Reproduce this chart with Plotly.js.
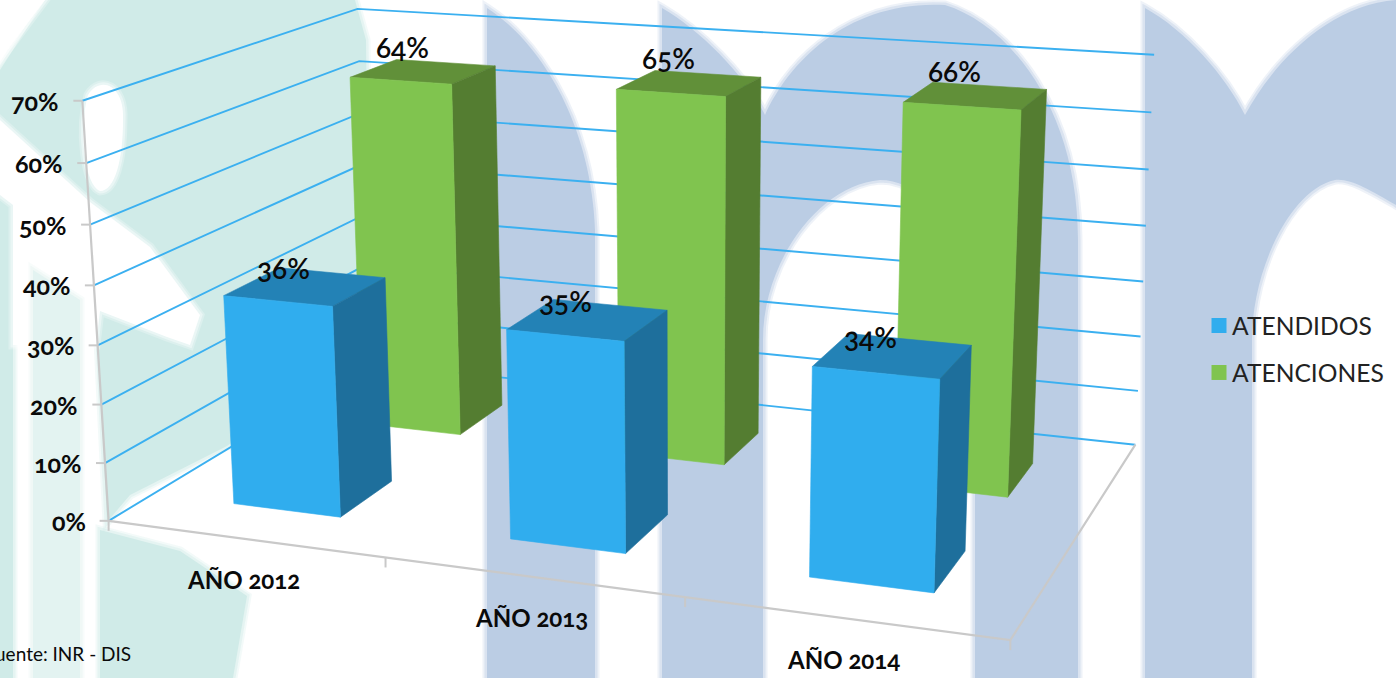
<!DOCTYPE html>
<html><head><meta charset="utf-8">
<script src="https://cdn.plot.ly/plotly-3.0.1.min.js"></script>
<style>
html,body{margin:0;padding:0;background:#fff;overflow:hidden}
#c{width:1396px;height:678px}
text{font-variant-numeric:oldstyle-nums;font-feature-settings:"onum" 1}
</style></head><body><div id="c"></div>
<script>
// ---- chart data ----
const categories = ['AÑO 2012','AÑO 2013','AÑO 2014'];
const atendidos  = [36,35,34];
const atenciones = [64,65,66];
const seriesNames = ['ATENDIDOS','ATENCIONES'];
const axisTicks = [0,10,20,30,40,50,60,70];
const source = 'Fuente: INR - DIS';

// ---- view: world (category, depth, percent) -> screen, fitted to the 3-D box ----
const calib = [
 [0,0,0,107,522],[3,0,0,1010,640],[3,1,0,1135,445],[0,1,0,372,362],
 [0,0,70,85,100],[0,1,70,355,9],[3,1,70,1155,55],
 [0,0,30,97,345],[3,1,30,1143,281],[0,1,30,364,216]
];
function solve(A,b){
  const n=b.length;A=A.map((r,i)=>[...r,b[i]]);
  for(let i=0;i<n;i++){
    let m=i;for(let k=i+1;k<n;k++)if(Math.abs(A[k][i])>Math.abs(A[m][i]))m=k;
    [A[i],A[m]]=[A[m],A[i]];
    for(let k=i+1;k<n;k++){const f=A[k][i]/A[i][i];for(let j=i;j<=n;j++)A[k][j]-=f*A[i][j];}
  }
  const x=Array(n).fill(0);
  for(let i=n-1;i>=0;i--){let s=A[i][n];for(let j=i+1;j<n;j++)s-=A[i][j]*x[j];x[i]=s/A[i][i];}
  return x;
}
const P=(function(){
  const R=[],B=[];
  calib.forEach(([x,y,z,X,Y])=>{
    const zz=z/70,U=X/1000,V=Y/1000;
    R.push([x,y,zz,1,0,0,0,0,-U*x,-U*y,-U*zz]);B.push(U);
    R.push([0,0,0,0,x,y,zz,1,-V*x,-V*y,-V*zz]);B.push(V);
  });
  const n=11,N=Array.from({length:n},()=>Array(n).fill(0)),v=Array(n).fill(0);
  R.forEach((r,k)=>{for(let i=0;i<n;i++){v[i]+=r[i]*B[k];for(let j=0;j<n;j++)N[i][j]+=r[i]*r[j];}});
  return solve(N,v);
})();
function proj(x,y,z){
  const zz=z/70,w=P[8]*x+P[9]*y+P[10]*zz+1;
  return [1000*(P[0]*x+P[1]*y+P[2]*zz+P[3])/w,1000*(P[4]*x+P[5]*y+P[6]*zz+P[7])/w];
}
function lineThrough(pts){return {x:pts.map(p=>p[0]),y:pts.map(p=>p[1])};}

const traces=[];
const GRID='#3BB0F0',AXIS='#C9C9C9';
function stroke(pts,color,width){
  traces.push({type:'scatter',mode:'lines',...lineThrough(pts),line:{color,width,simplify:false},showlegend:false,hoverinfo:'skip'});
}
// walls
axisTicks.forEach(t=>stroke([proj(0,0,t),proj(0,1,t),proj(3,1,t)],GRID,1.9));
// axis lines and ticks
stroke([proj(0,0,0),proj(0,0,axisTicks[axisTicks.length-1])],AXIS,2.2);
stroke([proj(0,0,0),proj(3,0,0),proj(3,1,0)],AXIS,2.2);
axisTicks.forEach(t=>{const p=proj(0,0,t);stroke([[p[0]-9,p[1]],p],AXIS,2);});
categories.forEach((c,i)=>{const p=proj(i,0,0);stroke([p,[p[0],p[1]+10]],AXIS,2);});
{const p=proj(3,0,0);stroke([p,[p[0],p[1]+10]],AXIS,2);}

// bars
function face(pts,color){
  const c=[...pts,pts[0]];
  traces.push({type:'scatter',mode:'lines',...lineThrough(c),fill:'toself',fillcolor:color,
    line:{color,width:0.6,simplify:false},showlegend:false,hoverinfo:'skip'});
}
function bars(vals,x0,x1,y0,y1,cFront,cTop,cSide){
  vals.forEach((v,i)=>{
    const a=i+x0,b=i+x1;
    face([proj(a,y0,v),proj(b,y0,v),proj(b,y1,v),proj(a,y1,v)],cTop);
    face([proj(b,y0,0),proj(b,y1,0),proj(b,y1,v),proj(b,y0,v)],cSide);
    face([proj(a,y0,0),proj(b,y0,0),proj(b,y0,v),proj(a,y0,v)],cFront);
  });
}
const BLUE='#30ADEE',GREEN='#80C44F';
const blueX=[0.303,0.697],greenX=[0.315,0.705];
bars(atenciones,greenX[0],greenX[1],0.635,0.83,GREEN,'#619039','#547D31');
bars(atendidos,blueX[0],blueX[1],0.15,0.35,BLUE,'#2382B6','#1E6F9C');

// legend entries
[[seriesNames[0],BLUE],[seriesNames[1],GREEN]].forEach(([name,color])=>{
  traces.push({type:'scatter',mode:'markers',name,legendgroup:name,x:[null],y:[null],
    marker:{symbol:'square',size:15,color},hoverinfo:'skip'});
});

// text
const FF='Lato, "Open Sans", sans-serif';
const ann=[];
function label(x,y,text,size,weight,anchor){
  ann.push({xref:'x',yref:'y',x,y,text,showarrow:false,xanchor:anchor||'center',yanchor:'middle',
    font:{family:FF,size,weight,color:'#0A0A0A'}});
}
axisTicks.forEach(t=>{const p=proj(0,0,t);label(p[0]-21,p[1],t+'%',25,700,'right');});
categories.forEach((c,i)=>{const p=proj(i+0.5,0,0);label(p[0]-1,p[1]+41,c,24,700);});
function dataLabels(vals,x,y,dx,dy){
  vals.forEach((v,i)=>{
    const p=proj(i+x,y,v);
    label(p[0]+dx,p[1]+dy,v+'%',28,600);
  });
}
dataLabels(atendidos,0.5,0.25,-22,-19);
dataLabels(atenciones,0.5,0.73,-18,-25);
label(133,653,source,19,400,'right');

// backdrop watermark
const TEAL='#D0EBE8',PALE='#E3F3F1',SLATE='#BBCDE4';
const teal=[
 'M 45,0 L 355,0 L 366,40 L 370,370 L 250,430 L 227,446 L 130,495 L 107,522 L 98,340 L 0,200 L 0,70 Z',
 'M 100,530 L 180,551 L 247,596 L 233,678 L 100,678 Z',
 'M 0,200 L 13,210 L 13,678 L 0,678 Z'
];
const pale=[
 'M 33,270 L 80,300 L 80,678 L 33,678 Z'
];
const whiteOver=[
 'M 88,95 C 100,75 125,85 123,120 C 123,160 115,191 100,191 C 85,185 78,130 88,95 Z',
 'M 0,120 L 90,202 L 150,247 L 200,315 L 190,345 L 167,337 L 100,311 L 96,345 L 13,345 L 13,205 L 0,195 Z',
 'M 0,60 L 45,0 L 0,0 Z'
];
const slate=[
 'M 487,8 C 530,35 590,110 595,230 L 595,678 L 487,678 Z',
 'M 662,8 C 700,30 745,75 765,115 C 790,60 850,0 945,5 C 1010,25 1078,110 1078,240 L 1078,678 L 975,678 L 975,340 C 975,260 935,180 880,180 C 820,185 763,260 763,340 L 763,678 L 662,678 Z',
 'M 1145,8 C 1185,30 1225,75 1245,115 C 1275,60 1330,5 1396,0 L 1396,205 C 1370,190 1350,178 1335,180 C 1290,190 1252,270 1252,340 L 1252,678 L 1145,678 Z'
];
const shapes=[];
function soft(d,color,rgb){
  [[9,0.25],[5,0.4]].forEach(([w,o])=>shapes.push({type:'path',xref:'x',yref:'y',layer:'below',path:d,
    fillcolor:'rgba(0,0,0,0)',line:{color:`rgba(${rgb},${o})`,width:w}}));
  shapes.push({type:'path',xref:'x',yref:'y',layer:'below',path:d,fillcolor:color,line:{width:0}});
}
teal.forEach(d=>soft(d,TEAL,'208,235,232'));
whiteOver.forEach(d=>soft(d,'#FFFFFF','255,255,255'));
pale.forEach(d=>soft(d,PALE,'227,243,241'));
slate.forEach(d=>soft(d,SLATE,'187,205,228'));

const layout={
  width:1396,height:678,margin:{l:0,r:0,t:0,b:0},
  paper_bgcolor:'#fff',plot_bgcolor:'#fff',
  xaxis:{range:[0,1396],visible:false,fixedrange:true},
  yaxis:{range:[678,0],visible:false,fixedrange:true},
  shapes,annotations:ann,
  legend:{x:1199/1396,y:1-(303/678),xanchor:'left',yanchor:'top',bgcolor:'rgba(0,0,0,0)',
    font:{family:FF,size:24.6,color:'#222'},tracegroupgap:12,itemwidth:30},
  showlegend:true,hovermode:false
};
Plotly.newPlot('c',traces,layout,{displayModeBar:false,staticPlot:true}).then(()=>{
  document.querySelectorAll('.legendtext').forEach(t=>t.setAttribute('x',Number(t.getAttribute('x'))-7));
});
</script></body></html>
